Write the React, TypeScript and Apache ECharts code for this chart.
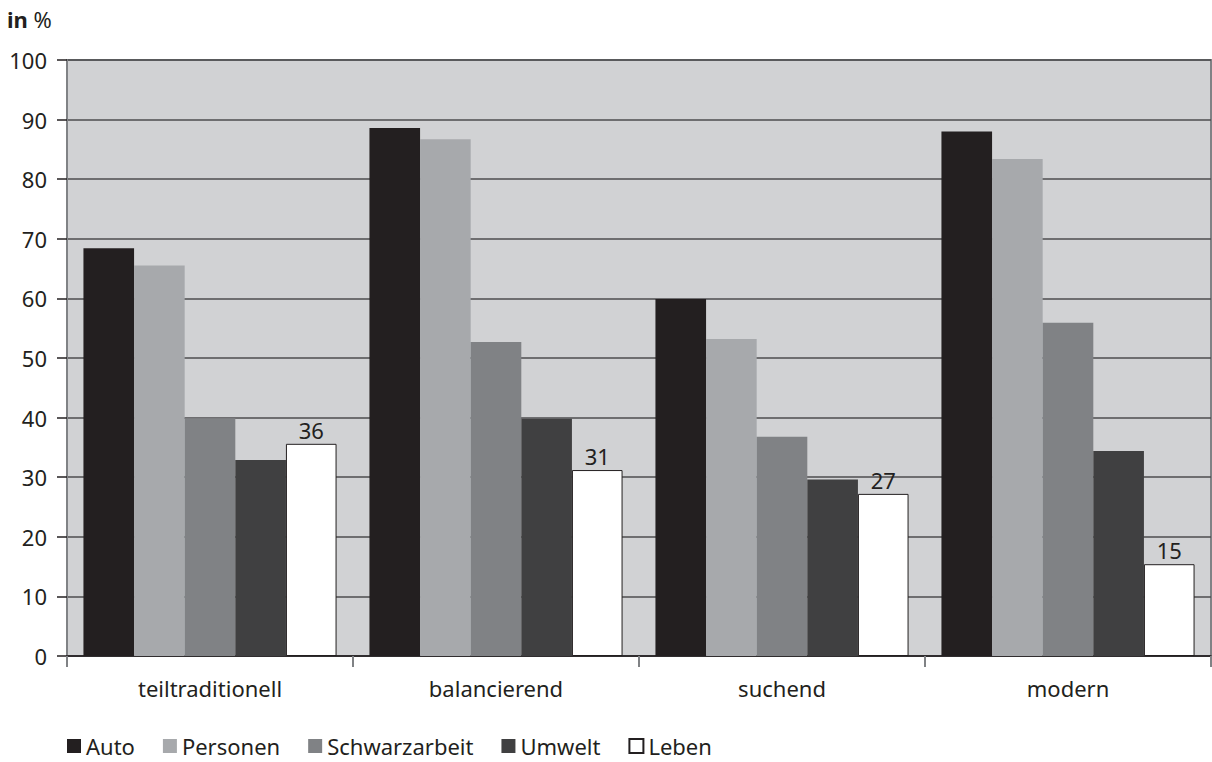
import React, { useEffect, useRef } from "react";
import * as echarts from "echarts";

const categories = ["teiltraditionell", "balancierend", "suchend", "modern"];
const auto = [68.4, 88.6, 59.9, 88.0];
const personen = [65.5, 86.7, 53.2, 83.4];
const schwarzarbeit = [39.9, 52.7, 36.8, 55.9];
const umwelt = [32.9, 39.8, 29.6, 34.4];
const leben = [35.6, 31.2, 27.2, 15.4];
const yTicks = { min: 0, max: 100, interval: 10 };

const FONT = "'Noto Sans', sans-serif";
const TXT = "#231f20";
const FS = 22;

export default function App() {
  const ref = useRef<HTMLDivElement>(null);
  useEffect(() => {
    if (!ref.current) return;
    const chart = echarts.init(ref.current, undefined, { renderer: "svg" });
    const mk = (name: string, data: number[], color: string, extra: any = {}) => ({
      name,
      type: "bar",
      data,
      barGap: "0%",
      barCategoryGap: "11.5%",
      itemStyle: { color, ...extra },
    });
    chart.setOption({
      animation: false,
      textStyle: { fontFamily: FONT },
      graphic: [
        {
          type: "text",
          left: 7,
          top: 8,
          style: {
            text: "{b|in} %",
            rich: {
              b: { fontWeight: "bold", fontSize: 22, fill: TXT, fontFamily: FONT },
            },
            fontSize: 22,
            fill: TXT,
            fontFamily: FONT,
          },
        },
      ],
      grid: {
        left: 67,
        right: 1,
        top: 60,
        bottom: 106,
        show: true,
        backgroundColor: "#d1d2d4",
        borderColor: "#808285",
        borderWidth: 2,
      },
      legend: {
        left: 67,
        top: 735,
        itemWidth: 14,
        itemHeight: 14,
        itemGap: 28,
        icon: "rect",
        padding: 0,
        textStyle: { fontSize: FS, lineHeight: 22, color: TXT, fontFamily: FONT },
        data: ["Auto", "Personen", "Schwarzarbeit", "Umwelt", "Leben"],
      },
      xAxis: {
        type: "category",
        data: categories,
        axisLine: { show: true, lineStyle: { color: TXT, width: 1.5 } },
        axisTick: { show: true, length: 11, lineStyle: { color: "#808285", width: 2 } },
        axisLabel: { fontSize: FS, color: TXT, margin: 21, fontFamily: FONT },
      },
      yAxis: {
        type: "value",
        min: yTicks.min,
        max: yTicks.max,
        interval: yTicks.interval,
        axisLine: { show: true, lineStyle: { color: "#808285", width: 2 } },
        axisTick: { show: true, length: 10, lineStyle: { color: TXT, width: 1.5 } },
        axisLabel: { fontSize: FS, color: TXT, margin: 20, fontFamily: FONT },
        splitLine: { show: true, lineStyle: { color: "#4d4d4f", width: 1.5 } },
      },
      series: [
        mk("Auto", auto, "#231f20"),
        mk("Personen", personen, "#a7a9ac"),
        mk("Schwarzarbeit", schwarzarbeit, "#808285"),
        mk("Umwelt", umwelt, "#404041"),
        {
          ...mk("Leben", leben, "#ffffff", { borderColor: "#231f20", borderWidth: 1 }),
          label: {
            show: true,
            position: "top",
            distance: 3,
            fontSize: FS,
            color: TXT,
            fontFamily: FONT,
            formatter: (p: any) => String(Math.round(p.value)),
          },
        },
      ],
    });
    return () => chart.dispose();
  }, []);
  return (
    <div
      ref={ref}
      style={{ position: "absolute", left: 0, top: 0, width: 1212, height: 762 }}
    />
  );
}
